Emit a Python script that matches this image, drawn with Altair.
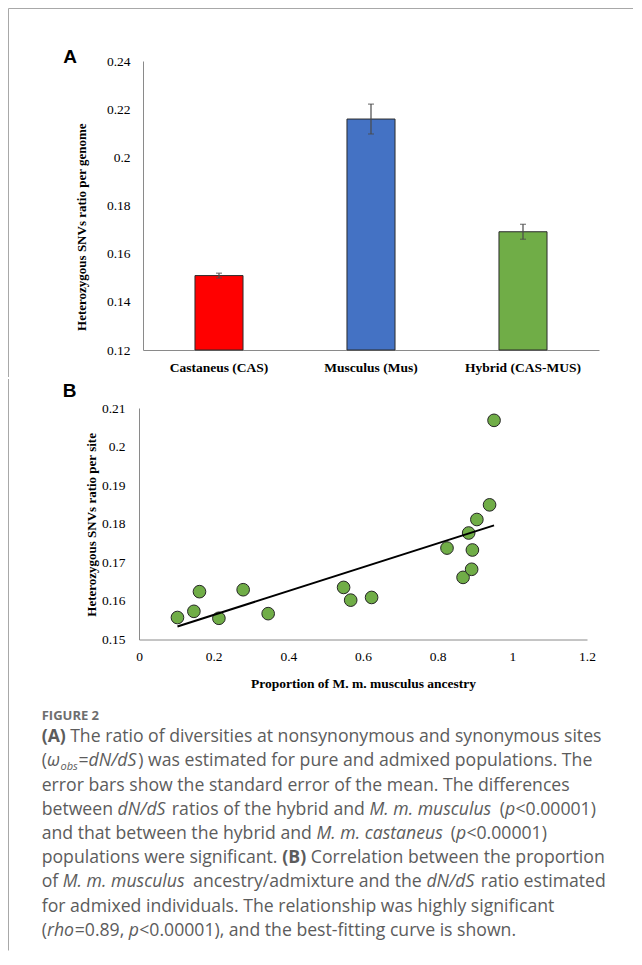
import altair as alt
import pandas as pd

# ---------------- data ----------------
groups = ["Castaneus (CAS)", "Musculus (Mus)", "Hybrid (CAS-MUS)"]
ratio_means = [0.1509, 0.2159, 0.1691]
ratio_se = [0.0010, 0.0062, 0.0031]
bar_colors = ["#FF0000", "#4472C4", "#70AD47"]

musculus_prop = [0.103, 0.147, 0.162, 0.214, 0.279, 0.346, 0.548, 0.567, 0.623,
                 0.825, 0.868, 0.891, 0.893, 0.883, 0.905, 0.939, 0.951]
site_ratio = [0.1557, 0.1573, 0.1624, 0.1555, 0.1629, 0.1567, 0.1635, 0.1602, 0.1609,
              0.1737, 0.1661, 0.1682, 0.1732, 0.1776, 0.1811, 0.1849, 0.2068]

ticksA = [0.12, 0.14, 0.16, 0.18, 0.20, 0.22, 0.24]
ticksBy = [0.15, 0.16, 0.17, 0.18, 0.19, 0.20, 0.21]
ticksBx = [0, 0.2, 0.4, 0.6, 0.8, 1.0, 1.2]

caption_title = "FIGURE 2"
caption_lines = [
    [("(A)", "bold"), (" The ratio of diversities at nonsynonymous and synonymous sites", "reg")],
    [("(", "reg"), ("\u03c9", "it"), ("obs", "sub"), ("=", "reg"), ("dN/dS", "it"),
     (") was estimated for pure and admixed populations. The", "reg")],
    [("error bars show the standard error of the mean. The differences", "reg")],
    [("between ", "reg"), ("dN/dS", "it"), (" ratios of the hybrid and ", "reg"),
     ("M. m. musculus", "it"), (" (", "reg"), ("p", "it"), ("<0.00001)", "reg")],
    [("and that between the hybrid and ", "reg"), ("M. m. castaneus", "it"), (" (", "reg"),
     ("p", "it"), ("<0.00001)", "reg")],
    [("populations were significant. ", "reg"), ("(B)", "bold"),
     (" Correlation between the proportion", "reg")],
    [("of ", "reg"), ("M. m. musculus", "it"), (" ancestry/admixture and the ", "reg"),
     ("dN/dS", "it"), (" ratio estimated", "reg")],
    [("for admixed individuals. The relationship was highly significant", "reg")],
    [("(", "reg"), ("rho", "it"), ("=0.89, ", "reg"), ("p", "it"),
     ("<0.00001), and the best-fitting curve is shown.", "reg")],
]

# ---------------- layout constants ----------------
SERIF = "Liberation Serif"
SANS = "Liberation Sans"
CAP_FONT = "Open Sans"
AXIS_COLOR = "#8a8a8a"
FRAME_COLOR = "#a8a8a8"
CAP_COLOR = "#5c5c5c"
CAP_SIZE = 17.65
SUB_SIZE = 11

A_X0, A_Y0 = 143.0, 61.0      # page position of panel A plot origin
B_X0, B_Y0 = 143.0, 407.5     # page position of panel B plot origin
FRAME_X = 8.5
FRAME_TOP = 8.5
A_BOTTOM = 377.0
B_TOP_REL = -29.0
PAGE_RIGHT = 633.0
PAGE_BOTTOM = 950.0

# approximate advance widths of Open Sans (1/1000 em), used to chain caption segments
W_REG = {
    " ": 260, "(": 296, ")": 296, ".": 266, ",": 250, "/": 372, "-": 321, "<": 571, "=": 571,
    "0": 571, "1": 571, "2": 571, "3": 571, "4": 571, "5": 571, "6": 571, "7": 571, "8": 571, "9": 571,
    "A": 633, "B": 648, "C": 631, "D": 729, "E": 556, "F": 516, "G": 728, "H": 738, "I": 279,
    "M": 903, "N": 754, "R": 618, "S": 549, "T": 553, "U": 728,
    "a": 556, "b": 613, "c": 476, "d": 613, "e": 561, "f": 336, "g": 548, "h": 614, "i": 252,
    "j": 252, "k": 525, "l": 252, "m": 930, "n": 614, "o": 602, "p": 613, "q": 613, "r": 408,
    "s": 477, "t": 353, "u": 614, "v": 501, "w": 778, "x": 524, "y": 501, "z": 463,
    "\u03c9": 790,
}
W_BOLD = {"(": 331, ")": 331, "A": 690, "B": 694}


def seg_width(text, style):
    if style == "sub":
        return sum(W_REG.get(c, 560) for c in text) * 0.97 / 1000 * SUB_SIZE
    if style == "bold":
        return sum(W_BOLD.get(c, W_REG.get(c, 560) * 1.08) for c in text) / 1000 * CAP_SIZE
    f = 0.97 if style == "it" else 1.0
    return sum(W_REG.get(c, 560) for c in text) * f / 1000 * CAP_SIZE


one = pd.DataFrame({"k": [0]})

# ---------------- panel A ----------------
dfA = pd.DataFrame({"group": groups, "mean": ratio_means, "se": ratio_se, "color": bar_colors})
dfA["lo"] = dfA["mean"] - dfA["se"]
dfA["hi"] = dfA["mean"] + dfA["se"]

xA_axis = alt.Axis(title=None, labelAngle=0, labelFont=SERIF, labelFontWeight="bold",
                   labelFontSize=13.5, labelColor="black", ticks=False, tickSize=0,
                   labelPadding=10, domainColor=AXIS_COLOR, domainWidth=1, grid=False)
xA_scale = alt.Scale(paddingInner=0.684, paddingOuter=0.342)
yA_scale = alt.Scale(domain=[0.12, 0.24], nice=False, zero=False)
yA_axis = alt.Axis(values=ticksA, format=".2~f", title="Heterozygous SNVs ratio per genome",
                   titleFont=SERIF, titleFontWeight="bold", titleFontSize=13, titleColor="black",
                   titleX=81.7 - A_X0, titleY=226.7 - A_Y0, titleBaseline="middle", titleAngle=270,
                   labelFont=SERIF, labelFontSize=13.5, labelColor="black", labelPadding=13,
                   labelOverlap=False, ticks=False, tickSize=0, grid=False,
                   domainColor=AXIS_COLOR, domainWidth=1)


def xA():
    return alt.X("group:N", sort=groups, scale=xA_scale, axis=xA_axis)


def yA(field):
    return alt.Y(field, scale=yA_scale, axis=yA_axis)


baseA = alt.Chart(dfA)
bars = baseA.mark_bar(stroke="#2b2b2b", strokeWidth=1).encode(
    x=xA(), y=yA("mean:Q"), y2=alt.datum(0.12), color=alt.Color("color:N", scale=None)
)
err = baseA.mark_rule(color="#4a4a4a", strokeWidth=1.2).encode(
    x=xA(), y=yA("lo:Q"), y2="hi:Q"
)
cap_lo = baseA.mark_tick(color="#4a4a4a", size=6, thickness=1.2, orient="horizontal").encode(
    x=xA(), y=yA("lo:Q")
)
cap_hi = baseA.mark_tick(color="#4a4a4a", size=6, thickness=1.2, orient="horizontal").encode(
    x=xA(), y=yA("hi:Q")
)
frame_top = alt.Chart(one).mark_rule(color=FRAME_COLOR, strokeWidth=1).encode(
    x=alt.value(FRAME_X - A_X0), x2=alt.value(PAGE_RIGHT - A_X0), y=alt.value(FRAME_TOP - A_Y0)
)
frame_leftA = alt.Chart(one).mark_rule(color=FRAME_COLOR, strokeWidth=1).encode(
    x=alt.value(FRAME_X - A_X0), y=alt.value(FRAME_TOP - A_Y0), y2=alt.value(A_BOTTOM - A_Y0)
)
letterA = alt.Chart(one).mark_text(text="A", font=SANS, fontWeight="bold", fontSize=19,
                                   align="center", baseline="middle", color="black").encode(
    x=alt.value(70 - A_X0), y=alt.value(56.7 - A_Y0)
)

panelA = alt.layer(bars, err, cap_lo, cap_hi, frame_top, frame_leftA, letterA).properties(
    width=456, height=289
)

# ---------------- panel B ----------------
dfB = pd.DataFrame({"prop": musculus_prop, "ratio": site_ratio})
xB_scale = alt.Scale(domain=[0, 1.2], range=[-4, 444], nice=False, zero=False)
yB_scale = alt.Scale(domain=[0.15, 0.21], nice=False, zero=False)
xB_axis = alt.Axis(values=ticksBx, format=".1~f", title="Proportion of M. m. musculus ancestry",
                   titleFont=SERIF, titleFontWeight="bold", titleFontSize=13.5, titleColor="black",
                   titlePadding=13, labelFont=SERIF, labelFontSize=13.5, labelColor="black",
                   labelPadding=10, ticks=False, tickSize=0, grid=False, labelOverlap=False,
                   domainColor=AXIS_COLOR, domainWidth=1, labelFlush=False)
yB_axis = alt.Axis(values=ticksBy, format=".2~f", title="Heterozygous SNVs ratio per site",
                   titleFont=SERIF, titleFontWeight="bold", titleFontSize=13, titleColor="black",
                   titleX=91.7 - 139.0, titleY=523.9 - B_Y0, titleBaseline="middle", titleAngle=270,
                   labelFont=SERIF, labelFontSize=13.5, labelColor="black", labelPadding=14,
                   ticks=False, tickSize=0, grid=False, offset=4, labelOverlap=False,
                   domainColor=AXIS_COLOR, domainWidth=1, labelFlush=False)


def xB():
    return alt.X("prop:Q", scale=xB_scale, axis=xB_axis)


def yB():
    return alt.Y("ratio:Q", scale=yB_scale, axis=yB_axis)


points = alt.Chart(dfB).mark_point(filled=True, size=160, fill="#70AD47", stroke="#262626",
                                   strokeWidth=1, opacity=1).encode(x=xB(), y=yB())
fit = alt.Chart(dfB).transform_regression("prop", "ratio").mark_line(
    color="black", strokeWidth=2).encode(x=xB(), y=yB())

frame_leftB = alt.Chart(one).mark_rule(color=FRAME_COLOR, strokeWidth=1).encode(
    x=alt.value(FRAME_X - B_X0), y=alt.value(B_TOP_REL), y2=alt.value(PAGE_BOTTOM - B_Y0)
)
letterB = alt.Chart(one).mark_text(text="B", font=SANS, fontWeight="bold", fontSize=19,
                                   align="center", baseline="middle", color="black").encode(
    x=alt.value(69.7 - B_X0), y=alt.value(390 - B_Y0)
)

# caption: segments chained left to right with approximate font metrics
BASE1 = 741.7
STEP = 24.2
LEFT = 41.7
rows = []
for i, segs in enumerate(caption_lines):
    y = BASE1 + STEP * i
    cursor = LEFT
    for txt, style in segs:
        lead = len(txt) - len(txt.lstrip(" "))
        x = cursor + lead * W_REG[" "] / 1000 * CAP_SIZE
        rows.append({"px": x - B_X0, "py": y - B_Y0 + (3.5 if style == "sub" else 0),
                     "txt": txt.strip(" "), "style": style})
        cursor += seg_width(txt, style)
cap_df = pd.DataFrame(rows)

styles = {
    "reg": dict(fontStyle="normal", fontWeight="normal", fontSize=CAP_SIZE),
    "it": dict(fontStyle="italic", fontWeight="normal", fontSize=CAP_SIZE),
    "bold": dict(fontStyle="normal", fontWeight="bold", fontSize=CAP_SIZE),
    "sub": dict(fontStyle="italic", fontWeight="normal", fontSize=SUB_SIZE),
}
cap_layers = []
for st, kw in styles.items():
    sub = cap_df[cap_df["style"] == st]
    cap_layers.append(
        alt.Chart(sub).mark_text(font=CAP_FONT, color=CAP_COLOR, align="left",
                                 baseline="alphabetic", **kw).encode(
            x=alt.X("px:Q", scale=None, axis=None),
            y=alt.Y("py:Q", scale=None, axis=None),
            text="txt:N",
        )
    )
fig_title = alt.Chart(one).mark_text(text=caption_title, font=CAP_FONT, fontWeight="bold",
                                     fontSize=13, color="#6e6e6e", align="left",
                                     baseline="alphabetic").encode(
    x=alt.value(41.7 - B_X0), y=alt.value(719.0 - B_Y0)
)

panelB = alt.layer(points, fit, frame_leftB, letterB, fig_title, *cap_layers).properties(
    width=444, height=231.5
)

chart = alt.vconcat(panelA, panelB, spacing=0, padding=0).configure_view(stroke=None)

chart.save("out.html", embed_options={"renderer": "svg", "actions": False})
